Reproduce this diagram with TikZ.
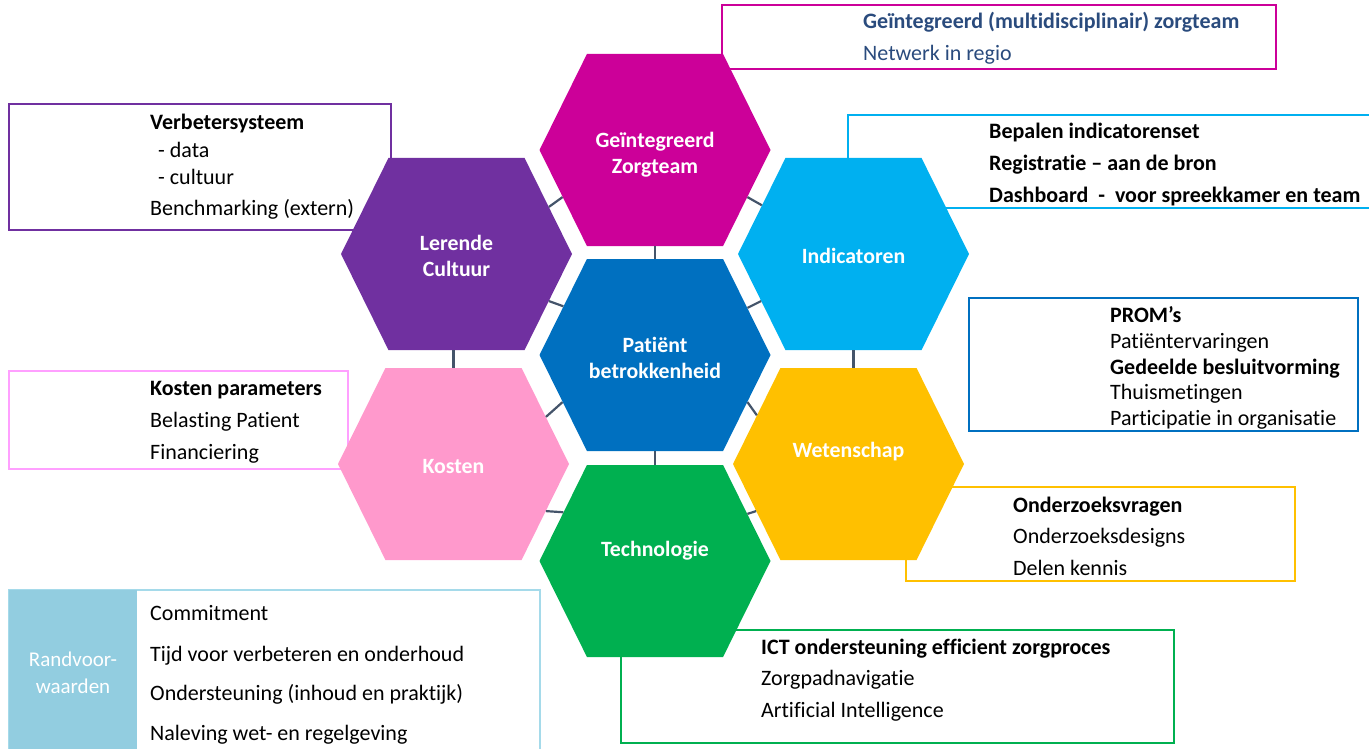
\documentclass[tikz,border=0pt]{standalone}
\usepackage{fontspec}
\setmainfont{Carlito}[Ligatures=NoCommon]
\usetikzlibrary{shapes.symbols}

\definecolor{zorgmagenta}{RGB}{204,0,153}
\definecolor{lerendpurple}{RGB}{112,48,160}
\definecolor{patblue}{RGB}{0,112,192}
\definecolor{indblue}{RGB}{0,176,240}
\definecolor{kostenpink}{RGB}{255,153,204}
\definecolor{kostenbox}{RGB}{255,160,255}
\definecolor{wetyellow}{RGB}{255,192,0}
\definecolor{techgreen}{RGB}{0,176,80}
\definecolor{randblue}{RGB}{146,205,224}
\definecolor{randline}{RGB}{165,218,234}
\definecolor{linkgrey}{RGB}{68,84,106}
\definecolor{topnavy}{RGB}{42,75,125}

\tikzset{
  hexa/.style={signal, signal to=east and west, signal pointer angle=127.4,
    minimum width=231pt, minimum height=192pt, inner sep=0pt},
  hextext/.style={text=white, align=center, inner sep=0pt,
    font=\bfseries\fontsize{21.8}{26}\selectfont},
  link/.style={draw=linkgrey, line width=2.2pt},
  infobox/.style={line width=2pt},
  boxtext/.style={anchor=west, inner sep=0pt, text height=14pt, text depth=0pt,
    font=\fontsize{22}{26}\selectfont},
}

\begin{document}
\begin{tikzpicture}[x=1pt,y=-1pt]
  \useasboundingbox (0,0) rectangle (1369,749);
  \clip (0,0) rectangle (1369,749);
  % boxes (behind the hexagons)
  \draw[infobox,draw=zorgmagenta] (722,5) rectangle (1276,69);
  \draw[infobox,draw=lerendpurple] (9,104) rectangle (391,230);
  \draw[infobox,draw=kostenbox] (9,371) rectangle (348,469);
  \draw[infobox,draw=indblue] (848,115) rectangle (1390,208);
  \draw[infobox,draw=patblue] (969,298) rectangle (1358,431);
  \draw[infobox,draw=wetyellow] (906,487) rectangle (1295,581);
  \draw[infobox,draw=techgreen] (621,630) rectangle (1174,743);
  \draw[infobox,draw=randline] (9,590) rectangle (540,770);
  \fill[randblue] (9,590) rectangle (137,770);

  % hexagons
  \node[hexa,fill=zorgmagenta] (gz) at (655,150) {};
  \node[hexa,fill=lerendpurple] (lc) at (456.5,254) {};
  \node[hexa,fill=patblue] (pb) at (655,355) {};
  \node[hexa,fill=indblue] (ind) at (853.5,254) {};
  \node[hexa,fill=kostenpink] (ks) at (453.5,464) {};
  \node[hexa,fill=wetyellow] (wet) at (848.5,464) {};
  \node[hexa,fill=techgreen] (tech) at (655,561) {};

  % hexagon titles
  \node[hextext,yshift=-5pt] (gzt) at (gz) {Geïntegreerd\\Zorgteam};
  \node[hextext,yshift=-2pt] (lct) at (lc) {Lerende\\Cultuur};
  \node[hextext,yshift=-2.5pt] (pbt) at (pb) {Patiënt\\betrokkenheid};
  \node[hextext,yshift=-2pt] (indt) at (ind) {Indicatoren};
  \node[hextext,yshift=-3pt] (kst) at (ks) {Kosten};
  \node[hextext,yshift=12pt] (wett) at (wet) {Wetenschap};
  \node[hextext,yshift=10pt] (techt) at (tech) {Technologie};

  % links between the hexagons
  \draw[link] (gz.south) -- (pb.north);
  \draw[link] (pb.south) -- (tech.north);
  \draw[link] (ks.north |- lc.south) -- (ks.north);
  \draw[link] (ind.south) -- (ind.south |- wet.north);
  \foreach \a/\b in {lc/gz,pb/ind,ks/pb,tech/wet}
    \draw[link] (\a.27.6) -- (\b.207.6);
  \foreach \a/\b in {lc/pb,gz/ind,pb/wet,ks/tech}
    \draw[link] (\a.-27.6) -- (\b.152.4);

  % texts in the boxes
  \foreach \y/\txt [count=\i] in {22/\textbf{Geïntegreerd (multidisciplinair) zorgteam},54/Netwerk in regio}
    \node[boxtext,text=topnavy] (gzb\i) at (863,\y) {\txt};
  \foreach \y/\txt [count=\i] in {123/\textbf{Verbetersysteem},151/\hspace{8pt}- data,178/\hspace{8pt}- cultuur,208/Benchmarking (extern)}
    \node[boxtext] (lcb\i) at (150,\y) {\txt};
  \foreach \y/\txt [count=\i] in {388/\textbf{Kosten parameters},420/Belasting Patient,452/Financiering}
    \node[boxtext] (ksb\i) at (150,\y) {\txt};
  \foreach \y/\txt [count=\i] in {132/Bepalen indicatorenset,164/Registratie – aan de bron,196/Dashboard\ \ -\ \ voor spreekkamer en team}
    \node[boxtext,font=\bfseries\fontsize{22}{26}\selectfont] (indb\i) at (989,\y) {\txt};
  \foreach \y/\txt [count=\i] in {315/\textbf{PROM’s},341/Patiëntervaringen,367/\textbf{Gedeelde besluitvorming},392/Thuismetingen,418/Participatie in organisatie}
    \node[boxtext] (pbb\i) at (1110,\y) {\txt};
  \foreach \y/\txt [count=\i] in {505/\textbf{Onderzoeksvragen},536/Onderzoeksdesigns,568/Delen kennis}
    \node[boxtext] (wetb\i) at (1013,\y) {\txt};
  \foreach \y/\txt [count=\i] in {647/\textbf{ICT ondersteuning efficient zorgproces},678/Zorgpadnavigatie,710/Artificial Intelligence}
    \node[boxtext] (techb\i) at (761,\y) {\txt};
  \foreach \y/\txt [count=\i] in {613/Commitment,654/Tijd voor verbeteren en onderhoud,693/Ondersteuning (inhoud en praktijk),733/Naleving wet- en regelgeving}
    \node[boxtext] (rvb\i) at (150,\y) {\txt};
  \node[text=white,align=center,inner sep=0pt,font=\fontsize{21}{27}\selectfont] (rv) at (73,673) {Randvoor-\\waarden};
\end{tikzpicture}
\end{document}
